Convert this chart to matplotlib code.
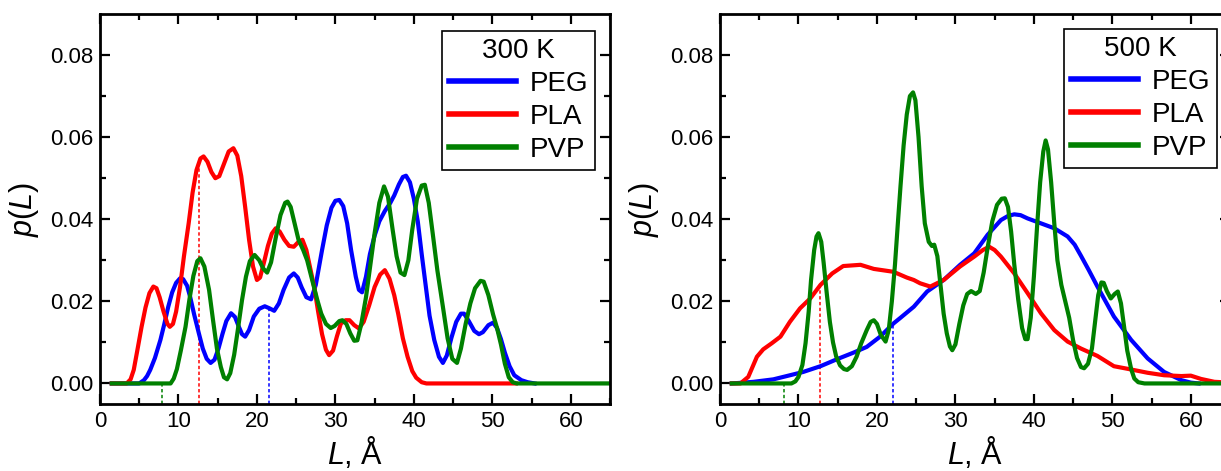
import matplotlib
matplotlib.use("Agg")
import matplotlib.pyplot as plt
import numpy as np

# ---- 300 K -------------------------------------------------------------
L_peg_300 = [1.5, 5.0, 5.6, 6.0, 6.4, 7.0, 7.7, 8.2, 8.7, 9.2, 9.7, 10.2, 10.6, 11.1,
             11.5, 12.0, 12.6, 13.1, 13.6, 14.1, 14.6, 15.1, 15.6, 16.1, 16.7, 17.2,
             17.7, 18.1, 18.5, 19.0, 19.6, 20.3, 21.0, 21.6, 22.2, 22.8, 23.4, 24.1,
             24.7, 25.2, 25.7, 26.3, 26.9, 27.5, 28.3, 28.9, 29.5, 30.0, 30.5, 31.0,
             31.5, 32.0, 32.6, 33.0, 33.4, 33.9, 34.4, 35.0, 35.6, 36.3, 37.0, 37.5,
             38.1, 38.6, 39.0, 39.5, 40.0, 40.5, 41.0, 41.5, 42.0, 42.6, 43.2, 43.7,
             44.2, 44.8, 45.4, 46.0, 46.4, 47.0, 47.7, 48.3, 48.8, 49.5, 50.1, 50.6,
             51.1, 51.6, 52.2, 52.8, 53.7, 54.5, 55.4]
p_peg_300 = [0.0, 0.0, 0.0008, 0.0018, 0.0033, 0.0062, 0.0106, 0.0145, 0.0187, 0.0222,
             0.0245, 0.0256, 0.0254, 0.0238, 0.0210, 0.0168, 0.0122, 0.0085, 0.0060,
             0.0050, 0.0058, 0.0085, 0.0120, 0.0152, 0.0171, 0.0162, 0.0138, 0.0120,
             0.0114, 0.0130, 0.0163, 0.0182, 0.0188, 0.0183, 0.0177, 0.0195, 0.0228,
             0.0258, 0.0268, 0.0258, 0.0234, 0.0210, 0.0205, 0.0240, 0.0325, 0.0385,
             0.0428, 0.0445, 0.0447, 0.0432, 0.0390, 0.0325, 0.0260, 0.0228, 0.0222,
             0.0260, 0.0315, 0.0360, 0.0395, 0.0420, 0.0440, 0.0458, 0.0485, 0.0503,
             0.0506, 0.0490, 0.0450, 0.0395, 0.0315, 0.0240, 0.0165, 0.0106, 0.0065,
             0.0050, 0.0068, 0.0112, 0.0150, 0.0170, 0.0170, 0.0152, 0.0128, 0.0120,
             0.0125, 0.0142, 0.0148, 0.0135, 0.0108, 0.0075, 0.0042, 0.0020, 0.0008,
             0.0003, 0.0]

L_pla_300 = [1.5, 3.4, 3.9, 4.3, 4.8, 5.3, 5.8, 6.3, 6.8, 7.2, 7.6, 8.1, 8.6, 8.9, 9.3,
             9.7, 10.2, 10.7, 11.3, 11.8, 12.3, 12.8, 13.2, 13.7, 14.2, 14.7, 15.2,
             15.8, 16.4, 17.0, 17.5, 18.0, 18.5, 19.0, 19.5, 20.0, 20.4, 20.9, 21.4,
             21.9, 22.4, 22.9, 23.5, 24.1, 24.7, 25.3, 25.8, 26.3, 26.8, 27.3, 27.8,
             28.3, 28.8, 29.2, 29.7, 30.2, 30.7, 31.3, 31.8, 32.4, 33.0, 33.6, 34.3,
             35.0, 35.7, 36.3, 36.9, 37.5, 38.0, 38.6, 39.2, 39.8, 40.3, 41.0, 41.6,
             53.0]
p_pla_300 = [0.0, 0.0, 0.0010, 0.0033, 0.0085, 0.0138, 0.0185, 0.0220, 0.0236, 0.0232,
             0.0210, 0.0175, 0.0145, 0.0138, 0.0145, 0.0175, 0.0235, 0.0310, 0.0390,
             0.0465, 0.0520, 0.0548, 0.0553, 0.0540, 0.0515, 0.0500, 0.0505, 0.0535,
             0.0565, 0.0573, 0.0555, 0.0505, 0.0430, 0.0350, 0.0285, 0.0252, 0.0258,
             0.0295, 0.0335, 0.0365, 0.0378, 0.0370, 0.0350, 0.0335, 0.0333, 0.0345,
             0.0350, 0.0325, 0.0280, 0.0235, 0.0175, 0.0120, 0.0082, 0.0069, 0.0080,
             0.0115, 0.0146, 0.0154, 0.0154, 0.0142, 0.0134, 0.0150, 0.0190, 0.0235,
             0.0265, 0.0276, 0.0255, 0.0215, 0.0170, 0.0110, 0.0065, 0.0030, 0.0014,
             0.0003, 0.0, 0.0]

L_pvp_300 = [1.5, 9.0, 9.4, 9.8, 10.3, 10.9, 11.4, 11.9, 12.4, 12.8, 13.3, 13.9, 14.4,
             14.9, 15.4, 15.8, 16.2, 16.6, 17.1, 17.6, 18.1, 18.6, 19.1, 19.7, 20.3,
             20.8, 21.3, 21.8, 22.4, 23.0, 23.6, 23.9, 24.3, 24.8, 25.3, 25.9, 26.4,
             27.0, 27.7, 28.2, 28.8, 29.4, 29.9, 30.5, 30.9, 31.4, 31.9, 32.4, 32.8,
             33.3, 33.9, 34.5, 35.0, 35.6, 36.2, 36.7, 37.3, 37.8, 38.3, 38.8, 39.3,
             39.8, 40.4, 41.0, 41.4, 41.9, 42.4, 43.0, 43.7, 44.3, 44.9, 45.5, 46.0,
             46.6, 47.2, 47.8, 48.5, 48.9, 49.5, 50.1, 50.6, 51.1, 51.6, 52.1, 52.6,
             53.1, 65.0]
p_pvp_300 = [0.0, 0.0, 0.0012, 0.0035, 0.0080, 0.0138, 0.0205, 0.0262, 0.0298, 0.0305,
             0.0285, 0.0228, 0.0155, 0.0085, 0.0040, 0.0015, 0.0010, 0.0025, 0.0070,
             0.0135, 0.0203, 0.0260, 0.0298, 0.0313, 0.0300, 0.0280, 0.0270, 0.0295,
             0.0355, 0.0410, 0.0440, 0.0443, 0.0430, 0.0390, 0.0350, 0.0325, 0.0300,
             0.0255, 0.0203, 0.0170, 0.0145, 0.0135, 0.0140, 0.0152, 0.0154, 0.0145,
             0.0122, 0.0104, 0.0105, 0.0145, 0.0210, 0.0295, 0.0366, 0.0440, 0.0480,
             0.0455, 0.0374, 0.0310, 0.0270, 0.0264, 0.0300, 0.0375, 0.0450, 0.0482,
             0.0484, 0.0440, 0.0366, 0.0275, 0.0187, 0.0110, 0.0060, 0.0050, 0.0085,
             0.0145, 0.0195, 0.0232, 0.0250, 0.0248, 0.0215, 0.0168, 0.0135, 0.0095,
             0.0048, 0.0015, 0.0003, 0.0, 0.0]

# ---- 500 K -------------------------------------------------------------
L_peg_500 = [1.5, 3.0, 4.3, 6.8, 8.5, 10.6, 12.8, 14.9, 17.0, 18.7, 20.4, 22.1, 23.0,
             24.7, 26.4, 28.5, 30.6, 32.4, 34.1, 35.8, 36.7, 37.5, 38.3, 39.2, 40.9,
             42.6, 44.3, 45.2, 46.0, 47.0, 48.1, 50.2, 52.4, 54.5, 56.6, 58.8, 60.0,
             61.0]
p_peg_500 = [0.0, 0.0002, 0.0004, 0.0010, 0.0018, 0.0028, 0.0042, 0.0059, 0.0075,
             0.0089, 0.0114, 0.0146, 0.0160, 0.0187, 0.0224, 0.0252, 0.0289, 0.0317,
             0.0362, 0.0398, 0.0408, 0.0412, 0.0410, 0.0402, 0.0390, 0.0378, 0.0358,
             0.0338, 0.0311, 0.0276, 0.0236, 0.0163, 0.0106, 0.0061, 0.0028, 0.0008,
             0.0002, 0.0]

L_pla_500 = [1.5, 2.6, 3.6, 4.7, 5.5, 6.6, 7.7, 8.9, 10.2, 11.5, 12.8, 14.3, 15.7, 17.9,
             19.6, 22.1, 23.8, 24.7, 25.5, 26.8, 28.5, 30.6, 32.4, 33.5, 34.3, 35.0,
             35.8, 37.5, 39.2, 40.9, 42.6, 44.3, 46.0, 48.1, 50.2, 52.4, 54.5, 56.6,
             58.8, 60.0, 61.3, 63.0, 65.0]
p_pla_500 = [0.0, 0.0, 0.0016, 0.0065, 0.0083, 0.0098, 0.0114, 0.0150, 0.0183, 0.0207,
             0.0240, 0.0268, 0.0286, 0.0289, 0.0279, 0.0272, 0.0258, 0.0252, 0.0244,
             0.0236, 0.0252, 0.0285, 0.0309, 0.0325, 0.0333, 0.0325, 0.0309, 0.0268,
             0.0220, 0.0171, 0.0130, 0.0102, 0.0085, 0.0067, 0.0042, 0.0034, 0.0026,
             0.0020, 0.0018, 0.0019, 0.0011, 0.0004, 0.0002]

L_pvp_500 = [1.5, 9.1, 9.6, 10.0, 10.5, 10.9, 11.3, 11.6, 12.0, 12.3, 12.55, 12.9, 13.2,
             13.6, 14.0, 14.4, 14.8, 15.3, 15.8, 16.2, 16.8, 17.4, 18.0, 18.7, 19.2,
             19.6, 20.0, 20.5, 21.1, 21.5, 21.9, 22.3, 22.7, 23.0, 23.4, 23.8, 24.2,
             24.6, 24.9, 25.3, 25.7, 26.1, 26.6, 27.0, 27.3, 27.7, 28.1, 28.5, 28.9,
             29.3, 29.6, 30.0, 30.5, 31.0, 31.5, 32.0, 32.6, 33.1, 33.6, 34.1, 34.7,
             35.3, 35.9, 36.3, 36.7, 37.1, 37.5, 38.0, 38.5, 38.9, 39.2, 39.6, 40.0,
             40.4, 40.8, 41.2, 41.5, 41.8, 42.2, 42.6, 43.0, 43.5, 44.0, 44.5, 45.0,
             45.5, 46.0, 46.4, 46.9, 47.4, 47.8, 48.2, 48.6, 48.9, 49.3, 49.8, 50.3,
             50.7, 51.1, 51.5, 51.9, 52.4, 52.8, 53.3, 54.1, 65.0]
p_pvp_500 = [0.0, 0.0, 0.0005, 0.0016, 0.0045, 0.0098, 0.0175, 0.0252, 0.0325, 0.0358,
             0.0366, 0.0345, 0.0295, 0.0220, 0.0150, 0.0100, 0.0066, 0.0044, 0.0035,
             0.0033, 0.0042, 0.0065, 0.0098, 0.0130, 0.0150, 0.0154, 0.0145, 0.0118,
             0.0102, 0.0130, 0.0200, 0.0290, 0.0400, 0.0480, 0.0580, 0.0655, 0.0700,
             0.0709, 0.0690, 0.0600, 0.0480, 0.0390, 0.0345, 0.0335, 0.0338, 0.0310,
             0.0240, 0.0170, 0.0122, 0.0090, 0.0081, 0.0095, 0.0145, 0.0190, 0.0218,
             0.0225, 0.0218, 0.0225, 0.0270, 0.0330, 0.0395, 0.0435, 0.0450, 0.0451,
             0.0430, 0.0370, 0.0290, 0.0205, 0.0135, 0.0108, 0.0108, 0.0160, 0.0260,
             0.0380, 0.0490, 0.0565, 0.0592, 0.0570, 0.0490, 0.0390, 0.0300, 0.0240,
             0.0200, 0.0160, 0.0105, 0.0062, 0.0040, 0.0037, 0.0048, 0.0085, 0.0150,
             0.0215, 0.0246, 0.0245, 0.0225, 0.0207, 0.0218, 0.0224, 0.0195, 0.0138,
             0.0080, 0.0035, 0.0012, 0.0003, 0.0, 0.0]

# mean lengths marked with dashed drop lines (PEG, PLA, PVP)
mean_300 = [21.6, 12.66, 7.9]
mean_500 = [22.0, 12.7, 8.2]

names = ["PEG", "PLA", "PVP"]
colors = ["#0000FF", "#FF0000", "#008000"]

plt.rcParams["font.family"] = ["Liberation Sans", "DejaVu Sans"]
plt.rcParams["mathtext.fontset"] = "custom"
plt.rcParams["mathtext.rm"] = "Liberation Sans"
plt.rcParams["mathtext.it"] = "Liberation Sans:italic"

fig = plt.figure(figsize=(12.21, 4.71), dpi=100)
ax1 = fig.add_axes([0.0819, 0.1423, 0.4177, 0.8280])
ax2 = fig.add_axes([0.5897, 0.1423, 0.4177, 0.8280])

panels = [
    (ax1, "300 K", [(L_peg_300, p_peg_300), (L_pla_300, p_pla_300), (L_pvp_300, p_pvp_300)],
     mean_300, (0.9706, 0.956)),
    (ax2, "500 K", [(L_peg_500, p_peg_500), (L_pla_500, p_pla_500), (L_pvp_500, p_pvp_500)],
     mean_500, (0.9745, 0.961)),
]

ymin = -0.005
for ax, title, series, means, anchor in panels:
    for (L, p), name, c in zip(series, names, colors):
        ax.plot(L, p, color=c, lw=3.0, label=name, solid_joinstyle="round")
    for (L, p), m, c in zip(series, means, colors):
        top = np.interp(m, L, p)
        ax.plot([m, m], [ymin, top], color=c, lw=1.1, ls=(0, (2.2, 1.6)), zorder=1)
    ax.set_xlim(0, 65)
    ax.set_ylim(ymin, 0.09)
    ax.set_xticks(np.arange(0, 61, 10))
    ax.set_xticks(np.arange(5, 66, 10), minor=True)
    ax.set_yticks(np.arange(0, 0.081, 0.02))
    ax.set_yticks(np.arange(0.01, 0.09, 0.02), minor=True)
    ax.yaxis.set_major_formatter(matplotlib.ticker.FormatStrFormatter("%.2f"))
    ax.tick_params(which="both", direction="in", top=True, right=True,
                   labelsize=16, width=1.6)
    ax.tick_params(which="major", length=7, pad=5)
    ax.tick_params(which="minor", length=4)
    for s in ax.spines.values():
        s.set_linewidth(2.0)
    ax.set_xlabel(r"$L$, Å", fontsize=22, labelpad=2)
    ax.set_ylabel(r"$p$($L$)", fontsize=22, labelpad=6)
    leg = ax.legend(title=title, loc="upper right", bbox_to_anchor=anchor,
                    borderaxespad=0, fontsize=20, title_fontsize=20,
                    handlelength=2.4, handletextpad=0.5, labelspacing=0.25,
                    borderpad=0.25, fancybox=False, framealpha=1)
    leg.get_frame().set_edgecolor("black")
    leg.get_frame().set_linewidth(1.2)
    for h in leg.get_lines():
        h.set_linewidth(4)

fig.savefig("out.png", dpi=100)
